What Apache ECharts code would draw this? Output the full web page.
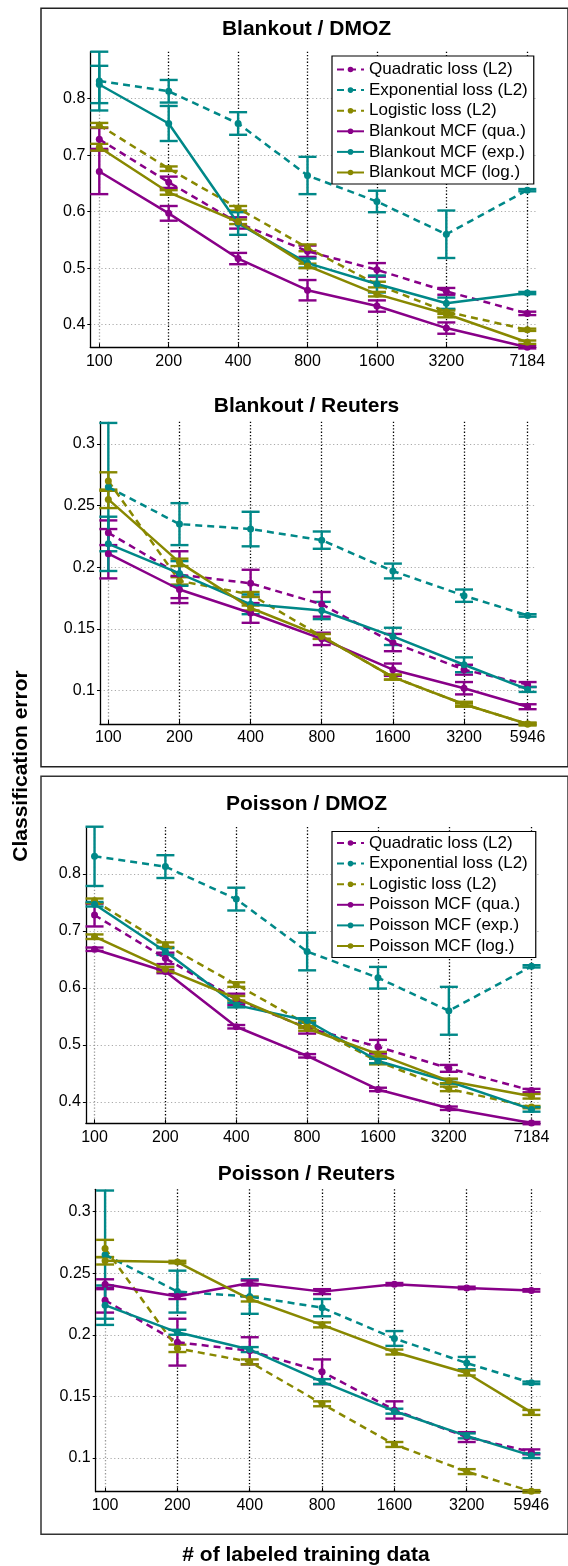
<!DOCTYPE html>
<html>
<head>
<meta charset="UTF-8">
<title>Blankout / Poisson MCF</title>
<script src="https://cdn.jsdelivr.net/npm/echarts@6/dist/echarts.min.js"></script>
<style>
  html, body { margin: 0; padding: 0; background: #fff; }
  #main { width: 568px; height: 1566px; }
</style>
</head>
<body>
<div id="main"></div>
<script>
// tick values (number of labeled training data)
var xTicksDMOZ = [100, 200, 400, 800, 1600, 3200, 7184];
var xTicksReuters = [100, 200, 400, 800, 1600, 3200, 5946];
var yTicksDMOZ = [0.4, 0.5, 0.6, 0.7, 0.8];
var yTicksReuters = [0.1, 0.15, 0.2, 0.25, 0.3];

// DMOZ baselines
var dmozQuad = [0.728, 0.652, 0.580, 0.530, 0.497, 0.459, 0.420];
var dmozQuadErr = [0.020, 0.010, 0.010, 0.010, 0.012, 0.006, 0.003];
var dmozExp = [0.831, 0.813, 0.756, 0.664, 0.618, 0.560, 0.638];
var dmozExpErr = [0.052, 0.020, 0.020, 0.033, 0.019, 0.042, 0.002];
var dmozLog = [0.753, 0.676, 0.606, 0.536, 0.471, 0.423, 0.391];
var dmozLogErr = [0.004, 0.004, 0.004, 0.006, 0.005, 0.004, 0.002];

// Blankout MCF on DMOZ
var blankDmozQua = [0.671, 0.597, 0.517, 0.461, 0.433, 0.394, 0.360];
var blankDmozQuaErr = [0.040, 0.013, 0.010, 0.018, 0.010, 0.010, 0.002];
var blankDmozExp = [0.825, 0.756, 0.579, 0.509, 0.472, 0.438, 0.456];
var blankDmozExpErr = [0.033, 0.031, 0.020, 0.008, 0.015, 0.010, 0.002];
var blankDmozLog = [0.714, 0.634, 0.582, 0.504, 0.454, 0.419, 0.369];
var blankDmozLogErr = [0.006, 0.004, 0.004, 0.004, 0.004, 0.006, 0.003];

// Poisson MCF on DMOZ
var poisDmozQua = [0.668, 0.629, 0.532, 0.481, 0.422, 0.389, 0.363];
var poisDmozQuaErr = [0.003, 0.003, 0.003, 0.003, 0.003, 0.003, 0.002];
var poisDmozExp = [0.747, 0.664, 0.570, 0.543, 0.472, 0.436, 0.387];
var poisDmozExpErr = [0.004, 0.006, 0.004, 0.004, 0.004, 0.004, 0.004];
var poisDmozLog = [0.690, 0.633, 0.582, 0.529, 0.484, 0.437, 0.410];
var poisDmozLogErr = [0.004, 0.004, 0.004, 0.004, 0.004, 0.004, 0.004];

// Reuters baselines
var reutQuad = [0.228, 0.194, 0.187, 0.170, 0.139, 0.117, 0.105];
var reutQuadErr = [0.010, 0.019, 0.011, 0.010, 0.007, 0.004, 0.002];
var reutExp = [0.265, 0.235, 0.231, 0.222, 0.197, 0.177, 0.161];
var reutExpErr = [0.052, 0.017, 0.014, 0.007, 0.006, 0.005, 0.001];
var reutLog = [0.270, 0.189, 0.178, 0.144, 0.111, 0.089, 0.073];
var reutLogErr = [0.007, 0.003, 0.002, 0.002, 0.002, 0.002, 0.001];

// Blankout MCF on Reuters
var blankReutQua = [0.211, 0.182, 0.163, 0.142, 0.117, 0.102, 0.087];
var blankReutQuaErr = [0.020, 0.011, 0.008, 0.005, 0.005, 0.005, 0.002];
var blankReutExp = [0.219, 0.195, 0.170, 0.165, 0.144, 0.121, 0.101];
var blankReutExpErr = [0.022, 0.010, 0.008, 0.007, 0.007, 0.006, 0.002];
var blankReutLog = [0.255, 0.204, 0.167, 0.144, 0.111, 0.089, 0.073];
var blankReutLogErr = [0.007, 0.003, 0.002, 0.002, 0.002, 0.001, 0.001];

// Poisson MCF on Reuters
var poisReutQua = [0.241, 0.231, 0.242, 0.235, 0.241, 0.238, 0.236];
var poisReutQuaErr = [0.004, 0.002, 0.002, 0.002, 0.001, 0.001, 0.001];
var poisReutExp = [0.224, 0.202, 0.188, 0.162, 0.138, 0.118, 0.102];
var poisReutExpErr = [0.016, 0.002, 0.002, 0.002, 0.002, 0.002, 0.002];
var poisReutLog = [0.260, 0.259, 0.229, 0.208, 0.186, 0.169, 0.137];
var poisReutLogErr = [0.003, 0.001, 0.002, 0.002, 0.002, 0.002, 0.002];

var PURPLE = '#880088', TEAL = '#008888', OLIVE = '#888800';
var FONT = 'Liberation Sans, Arial, Helvetica, sans-serif';

var baseNames = ['Quadratic loss (L2)', 'Exponential loss (L2)', 'Logistic loss (L2)'];
var blankNames = ['Blankout MCF (qua.)', 'Blankout MCF (exp.)', 'Blankout MCF (log.)'];
var poisNames = ['Poisson MCF (qua.)', 'Poisson MCF (exp.)', 'Poisson MCF (log.)'];

function lines(names, vals, errs, dashed) {
  var colors = [PURPLE, TEAL, OLIVE];
  return names.map(function (n, i) {
    return { name: n, vals: vals[i], errs: errs[i], color: colors[i], dashed: dashed };
  });
}

var panels = [
  { title: 'Blankout / DMOZ', titleY: 29.5,
    grid: { left: 90.3, top: 51.7, width: 445.4, height: 295.6 },
    xlim: [91.4, 7813], ylim: [0.36, 0.883], xTicks: xTicksDMOZ, yTicks: yTicksDMOZ,
    lines: lines(baseNames, [dmozQuad, dmozExp, dmozLog], [dmozQuadErr, dmozExpErr, dmozLogErr], true)
      .concat(lines(blankNames, [blankDmozQua, blankDmozExp, blankDmozLog], [blankDmozQuaErr, blankDmozExpErr, blankDmozLogErr], false)) },
  { title: 'Blankout / Reuters', titleY: 406,
    grid: { left: 100, top: 421.7, width: 435.7, height: 302.3 },
    xlim: [92.2, 6434], ylim: [0.073, 0.318], xTicks: xTicksReuters, yTicks: yTicksReuters,
    lines: lines(baseNames, [reutQuad, reutExp, reutLog], [reutQuadErr, reutExpErr, reutLogErr], true)
      .concat(lines(blankNames, [blankReutQua, blankReutExp, blankReutLog], [blankReutQuaErr, blankReutExpErr, blankReutLogErr], false)) },
  { title: 'Poisson / DMOZ', titleY: 804,
    grid: { left: 85.9, top: 827, width: 454, height: 296.3 },
    xlim: [91.9, 7797], ylim: [0.3626, 0.8825], xTicks: xTicksDMOZ, yTicks: yTicksDMOZ,
    lines: lines(baseNames, [dmozQuad, dmozExp, dmozLog], [dmozQuadErr, dmozExpErr, dmozLogErr], true)
      .concat(lines(poisNames, [poisDmozQua, poisDmozExp, poisDmozLog], [poisDmozQuaErr, poisDmozExpErr, poisDmozLogErr], false)) },
  { title: 'Poisson / Reuters', titleY: 1174.5,
    grid: { left: 95.7, top: 1189.3, width: 445, height: 302.4 },
    xlim: [91.4, 6502], ylim: [0.0727, 0.318], xTicks: xTicksReuters, yTicks: yTicksReuters,
    lines: lines(baseNames, [reutQuad, reutExp, reutLog], [reutQuadErr, reutExpErr, reutLogErr], true)
      .concat(lines(poisNames, [poisReutQua, poisReutExp, poisReutLog], [poisReutQuaErr, poisReutExpErr, poisReutLogErr], false)) }
];

function errRender(color) {
  return function (params, api) {
    var x = api.value(0);
    var lo = api.coord([x, api.value(1)]);
    var hi = api.coord([x, api.value(2)]);
    var w = 9;
    var st = { stroke: color, lineWidth: 2.4, fill: null };
    return { type: 'group', children: [
      { type: 'line', shape: { x1: lo[0], y1: hi[1], x2: lo[0], y2: lo[1] }, style: st },
      { type: 'line', shape: { x1: lo[0] - w, y1: hi[1], x2: lo[0] + w, y2: hi[1] }, style: st },
      { type: 'line', shape: { x1: lo[0] - w, y1: lo[1], x2: lo[0] + w, y2: lo[1] }, style: st }
    ] };
  };
}

var grids = [], xAxes = [], yAxes = [], series = [], graphics = [];

panels.forEach(function (p, k) {
  grids.push({ left: p.grid.left, top: p.grid.top, width: p.grid.width, height: p.grid.height,
    outerBoundsMode: 'none', containLabel: false });
  var xt = p.xTicks;
  xAxes.push({
    type: 'value', gridIndex: k, min: Math.log2(p.xlim[0]), max: Math.log2(p.xlim[1]),
    axisLine: { show: true, onZero: false, lineStyle: { color: '#000', width: 1.3 } },
    axisTick: { show: true, inside: true, length: 4, customValues: xt.map(Math.log2), lineStyle: { color: '#000' } },
    axisLabel: { show: true, margin: 6, fontSize: 16, fontFamily: FONT, color: '#000',
      customValues: xt.map(Math.log2),
      formatter: function (v) {
        for (var i = 0; i < xt.length; i++) if (Math.abs(Math.log2(xt[i]) - v) < 1e-6) return String(xt[i]);
        return '';
      } },
    splitLine: { show: true, lineStyle: { color: ['#999', '#000', '#000', '#000', '#000', '#000', '#000'], type: [1.3, 2], width: 1.3 } }
  });
  yAxes.push({
    type: 'value', gridIndex: k, min: p.ylim[0], max: p.ylim[1],
    axisLine: { show: true, onZero: false, lineStyle: { color: '#000', width: 1.3 } },
    axisTick: { show: true, inside: false, length: 3, customValues: p.yTicks, lineStyle: { color: '#000' } },
    axisLabel: { show: true, margin: 5, fontSize: 16, fontFamily: FONT, color: '#000',
      customValues: p.yTicks, formatter: function (v) { return String(v); } },
    splitLine: { show: true, lineStyle: { color: '#aaa', type: [1.2, 2.5], width: 1 } }
  });
  p.lines.forEach(function (l) {
    series.push({
      name: l.name, type: 'line', xAxisIndex: k, yAxisIndex: k,
      data: xt.map(function (x, i) { return [Math.log2(x), l.vals[i]]; }),
      symbol: 'circle', symbolSize: 7, showSymbol: true,
      lineStyle: { color: l.color, width: 2.5, type: l.dashed ? [7, 5] : 'solid' },
      itemStyle: { color: l.color },
      emphasis: { disabled: true }, silent: true, animation: false
    });
    series.push({
      name: 'err ' + l.name + ' ' + k, type: 'custom', xAxisIndex: k, yAxisIndex: k,
      data: xt.map(function (x, i) { return [Math.log2(x), l.vals[i] - l.errs[i], l.vals[i] + l.errs[i]]; }),
      encode: { x: 0, y: [1, 2] }, renderItem: errRender(l.color), silent: true, animation: false
    });
  });
  graphics.push({ type: 'text', x: 306.5, y: p.titleY,
    style: { text: p.title, font: 'bold 21px ' + FONT, fill: '#000', textAlign: 'center', textVerticalAlign: 'middle' } });
});

// frames and shared axis titles
graphics.push({ type: 'rect', shape: { x: 41, y: 8.3, width: 527, height: 758.4 },
  style: { fill: null, stroke: '#222', lineWidth: 1.5 } });
graphics.push({ type: 'rect', shape: { x: 41, y: 776.3, width: 527, height: 758 },
  style: { fill: null, stroke: '#333', lineWidth: 1.5 } });
graphics.push({ type: 'text', x: 21, y: 766, rotation: Math.PI / 2,
  style: { text: 'Classification error', font: 'bold 21px ' + FONT, fill: '#000', textAlign: 'center', textVerticalAlign: 'middle' } });
graphics.push({ type: 'text', x: 306, y: 1555,
  style: { text: '# of labeled training data', font: 'bold 21px ' + FONT, fill: '#000', textAlign: 'center', textVerticalAlign: 'middle' } });

function legendFor(names, top, pad, gap) {
  return {
    data: baseNames.concat(names), orient: 'vertical', left: 332, top: top,
    itemWidth: 27, itemHeight: 7, itemGap: gap, padding: pad,
    borderColor: '#000', borderWidth: 1.2, borderRadius: 0, backgroundColor: '#fff',
    selectedMode: false,
    textStyle: { fontFamily: FONT, fontSize: 17, color: '#000', lineHeight: 17 }
  };
}

var myChart = echarts.init(document.getElementById('main'), null, { renderer: 'canvas' });
myChart.setOption({
  animation: false,
  backgroundColor: '#fff',
  grid: grids,
  xAxis: xAxes,
  yAxis: yAxes,
  legend: [legendFor(blankNames, 56, [5, 6, 3, 4], 3.6), legendFor(poisNames, 831.5, [3, 8, 3, 4], 3.6)],
  graphic: graphics,
  series: series
});
</script>
</body>
</html>
